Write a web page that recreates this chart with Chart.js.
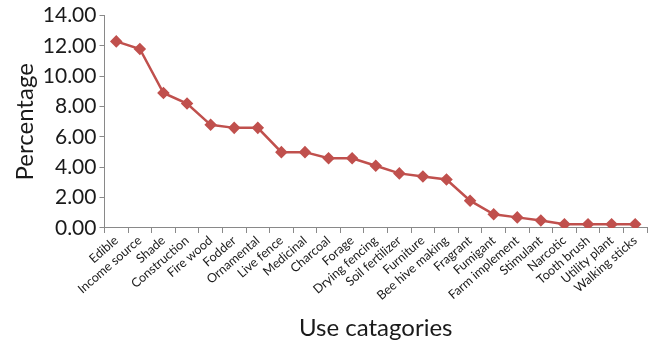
<!DOCTYPE html>
<html>
<head>
<meta charset="utf-8">
<script src="https://cdn.jsdelivr.net/npm/chart.js@4/dist/chart.umd.min.js"></script>
<style>
  html, body { margin: 0; padding: 0; background: #fff; overflow: hidden; }
  #wrap { width: 654px; height: 343px; position: relative; }
</style>
</head>
<body>
<div id="wrap"><canvas id="c" width="654" height="343"></canvas></div>
<script>
// Use categories and their share (%) of reported uses
const categories = [
  "Edible", "Income source", "Shade", "Construction", "Fire wood", "Fodder",
  "Ornamental", "Live fence", "Medicinal", "Charcoal", "Forage", "Drying fencing",
  "Soil fertilizer", "Furniture", "Bee hive making", "Fragrant", "Fumigant",
  "Farm implement", "Stimulant", "Narcotic", "Tooth brush", "Utility plant", "Walking sticks"
];
const percentages = [
  12.3, 11.8, 8.9, 8.2, 6.8, 6.6,
  6.6, 5.0, 5.0, 4.6, 4.6, 4.1,
  3.6, 3.4, 3.2, 1.8, 0.9,
  0.7, 0.5, 0.25, 0.25, 0.25, 0.25
];
const yTicks = [0, 2, 4, 6, 8, 10, 12, 14];

const axisGray = "#898989";
const textColor = "#1a1a1a";
const fontFamily = "Lato, 'Open Sans', sans-serif";

new Chart(document.getElementById("c"), {
  type: "line",
  data: {
    labels: categories,
    datasets: [{
      data: percentages,
      borderColor: "#C0504D",
      backgroundColor: "#C0504D",
      borderWidth: 2.5,
      pointStyle: "rectRot",
      pointRadius: 4.5,
      pointHoverRadius: 4.5,
      tension: 0,
      fill: false
    }]
  },
  options: {
    responsive: false,
    animation: false,
    layout: { padding: { top: 6, right: -7, bottom: 0, left: 11 } },
    plugins: { legend: { display: false }, tooltip: { enabled: false } },
    scales: {
      x: {
        type: "category",
        offset: true,
        border: { display: true, color: axisGray, width: 1 },
        grid: {
          display: true,
          offset: true,
          drawOnChartArea: false,
          drawTicks: true,
          tickLength: 5,
          color: axisGray
        },
        ticks: {
          color: textColor,
          font: { family: fontFamily, size: 12.5 },
          minRotation: 41,
          maxRotation: 41,
          autoSkip: false,
          padding: 0
        },
        title: {
          display: true,
          text: "Use catagories",
          color: textColor,
          font: { family: fontFamily, size: 24 },
          padding: { top: 11, bottom: 0 }
        }
      },
      y: {
        min: 0,
        max: 14,
        afterBuildTicks: (axis) => { axis.ticks = yTicks.map(v => ({ value: v })); },
        border: { display: true, color: axisGray, width: 1 },
        grid: {
          display: true,
          drawOnChartArea: false,
          drawTicks: true,
          tickLength: 5,
          color: axisGray
        },
        ticks: {
          color: textColor,
          font: { family: fontFamily, size: 21 },
          padding: 3,
          callback: (v) => Number(v).toFixed(2)
        },
        title: {
          display: true,
          text: "Percentage",
          color: textColor,
          font: { family: fontFamily, size: 24 },
          padding: { top: 0, bottom: 0 }
        }
      }
    }
  }
});
</script>
</body>
</html>
